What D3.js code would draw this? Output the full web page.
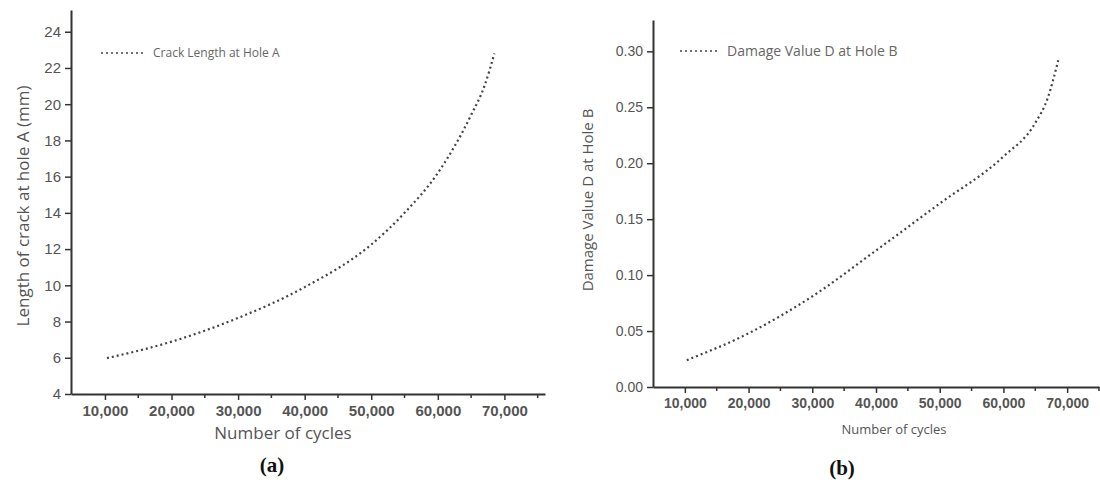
<!DOCTYPE html>
<html>
<head>
<meta charset="utf-8">
<script src="https://cdn.jsdelivr.net/npm/d3@7"></script>
<style>
  body { margin: 0; background: #fff; }
  svg { display: block; }
</style>
</head>
<body>
<svg id="chart" width="1100" height="486"></svg>
<script>
// panel (a): crack length at hole A
const cyclesA = [10300, 20000, 30000, 40000, 50000, 55000, 60000, 65000, 67000, 68500]
const crackA = [5.98, 6.89, 8.2, 9.9, 12.25, 14.0, 16.2, 19.4, 21.0, 22.8]
// panel (b): damage value D at hole B
const cyclesB = [10300, 20000, 30000, 40000, 50000, 60000, 65000, 67000, 68600]
const damageB = [0.024, 0.048, 0.081, 0.122, 0.164, 0.206, 0.236, 0.259, 0.292]

const xTicks = [10000, 20000, 30000, 40000, 50000, 60000, 70000]
const xMinorTicks = [15000, 25000, 35000, 45000, 55000, 65000, 75000]
const yTicksA = [4, 6, 8, 10, 12, 14, 16, 18, 20, 22, 24]
const yTicksB = [0, 0.05, 0.10, 0.15, 0.20, 0.25, 0.30]

const svg = d3.select('#chart')
const axisColor = '#333'
const textColor = '#555'
const fmt = d3.format(',')

function drawPanel(opt) {
    const x = d3.scaleLinear().domain(opt.xDomain).range([opt.left, opt.right])
    const y = d3.scaleLinear().domain(opt.yDomain).range([opt.bottom, opt.top])
    const g = svg.append('g')

    // x axis, major + minor ticks
    const xAxis = g.append('g')
        .attr('transform', `translate(0,${opt.bottom})`)
        .call(d3.axisBottom(x).tickValues(xTicks).tickFormat(fmt).tickSize(6).tickPadding(5).tickSizeOuter(0))
    xAxis.select('.domain').attr('stroke', axisColor).attr('stroke-width', 2)
    xAxis.selectAll('line').attr('stroke', axisColor).attr('stroke-width', 1.5)
    xAxis.selectAll('text')
        .attr('fill', textColor)
        .style('font-family', 'Liberation Sans, Arial, sans-serif')
        .style('font-size', opt.xTickFont + 'px')
        .style('font-weight', opt.xTickWeight)
    g.append('g').selectAll('line').data(xMinorTicks.filter(d => x(d) <= opt.right)).join('line')
        .attr('x1', d => x(d)).attr('x2', d => x(d))
        .attr('y1', opt.bottom).attr('y2', opt.bottom + 4)
        .attr('stroke', axisColor).attr('stroke-width', 1.5)

    // y axis
    const yAxis = g.append('g')
        .attr('transform', `translate(${opt.left},0)`)
        .call(d3.axisLeft(y).tickValues(opt.yTicks).tickFormat(opt.yFormat).tickSize(6).tickPadding(4).tickSizeOuter(0))
    yAxis.select('.domain').attr('stroke', axisColor).attr('stroke-width', 2)
    yAxis.selectAll('line').attr('stroke', axisColor).attr('stroke-width', 1.5)
    yAxis.selectAll('text')
        .attr('fill', textColor)
        .style('font-family', 'Liberation Sans, Arial, sans-serif')
        .style('font-size', opt.yTickFont + 'px')

    // the curve
    const line = d3.line()
        .x((d, i) => x(opt.xs[i]))
        .y(d => y(d))
        .curve(d3.curveMonotoneX)
    g.append('path')
        .attr('d', line(opt.ys))
        .attr('fill', 'none')
        .attr('stroke', '#444')
        .attr('stroke-width', 2.2)
        .attr('stroke-dasharray', '2,3')

    // legend
    g.append('line')
        .attr('x1', opt.legend.x).attr('x2', opt.legend.x + opt.legend.len)
        .attr('y1', opt.legend.y).attr('y2', opt.legend.y)
        .attr('stroke', '#444').attr('stroke-width', 1.6).attr('stroke-dasharray', '2,3')
    g.append('text')
        .attr('x', opt.legend.x + opt.legend.len + 10).attr('y', opt.legend.y)
        .attr('dy', '0.35em')
        .attr('fill', '#666')
        .style('font-family', 'Open Sans, sans-serif')
        .style('font-size', opt.legend.font + 'px')
        .text(opt.legend.label)

    // axis titles
    g.append('text')
        .attr('x', opt.xTitle.x).attr('y', opt.xTitle.y)
        .attr('text-anchor', 'middle').attr('dy', '0.35em')
        .attr('fill', textColor)
        .style('font-family', 'Open Sans, sans-serif')
        .style('font-size', opt.xTitle.font + 'px')
        .text('Number of cycles')
    g.append('text')
        .attr('transform', `translate(${opt.yTitle.x},${opt.yTitle.y}) rotate(-90)`)
        .attr('text-anchor', 'middle').attr('dy', '0.35em')
        .attr('fill', textColor)
        .style('font-family', 'Open Sans, sans-serif')
        .style('font-size', opt.yTitle.font + 'px')
        .text(opt.yTitle.label)

    // panel label
    g.append('text')
        .attr('x', opt.tag.x).attr('y', opt.tag.y)
        .attr('text-anchor', 'middle').attr('dy', '0.35em')
        .attr('fill', '#111')
        .style('font-family', 'Liberation Serif, serif')
        .style('font-size', '21px')
        .style('font-weight', 'bold')
        .text(opt.tag.label)
}

drawPanel({
    xs: cyclesA, ys: crackA,
    xDomain: [4900, 76100], yDomain: [4, 25.2],
    left: 71, right: 545, top: 10, bottom: 394,
    yTicks: yTicksA, yFormat: d3.format('d'),
    xTickFont: 15, xTickWeight: 'bold', yTickFont: 15,
    legend: { x: 101, y: 53, len: 42, font: 12, label: 'Crack Length at Hole A' },
    xTitle: { x: 283, y: 433, font: 17 },
    yTitle: { x: 23, y: 206, font: 17, label: 'Length of crack at hole A (mm)' },
    tag: { x: 272, y: 465, label: '(a)' }
})

drawPanel({
    xs: cyclesB, ys: damageB,
    xDomain: [5000, 75000], yDomain: [0, 0.328],
    left: 653, right: 1099, top: 20, bottom: 387,
    yTicks: yTicksB, yFormat: d3.format('.2f'),
    xTickFont: 14, xTickWeight: '600', yTickFont: 14,
    legend: { x: 680, y: 51, len: 37, font: 14, label: 'Damage Value D at Hole B' },
    xTitle: { x: 894, y: 429, font: 13 },
    yTitle: { x: 588, y: 200, font: 15, label: 'Damage Value D at Hole B' },
    tag: { x: 842, y: 468, label: '(b)' }
})
</script>
</body>
</html>
